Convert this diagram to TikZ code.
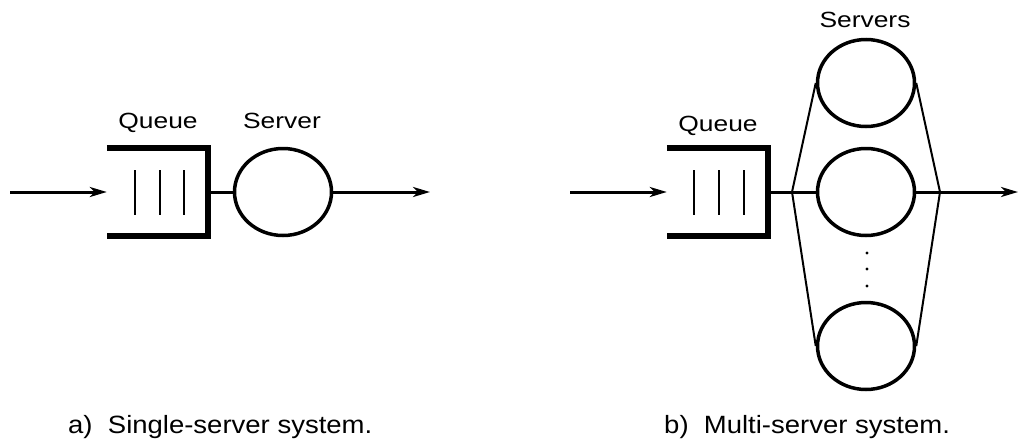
\documentclass[tikz,border=0pt]{standalone}
\usepackage{fontspec}
\setmainfont{Liberation Sans}
\newfontfamily\labelfont[FakeStretch=1.2]{Liberation Sans}
\newfontfamily\capfont[FakeStretch=1.1]{Liberation Sans}
\usetikzlibrary{arrows.meta,shapes.geometric}

\begin{document}
\begin{tikzpicture}[x=1pt,y=-1pt,
  server/.style={draw, ellipse, line width=3.5pt, minimum width=97pt,
                 minimum height=87pt, inner sep=0pt},
  queuebox/.style={rectangle, minimum width=101pt, minimum height=88pt, inner sep=0pt},
  bracket/.style={line width=6pt, line join=miter},
  slot/.style={line width=2pt},
  flow/.style={line width=3pt, -{Stealth[length=17pt,width=10pt,inset=5pt]}},
  link/.style={line width=3pt},
  fan/.style={line width=2pt},
  lbl/.style={font=\labelfont\fontsize{22}{26}\selectfont, anchor=base, inner sep=0pt},
  caption/.style={font=\capfont\fontsize{25}{30}\selectfont, anchor=base west, inner sep=0pt}]

\useasboundingbox (0,0) rectangle (1019,442);

% ---------- a) single-server system ----------
\node[queuebox] (qa) at (157.5,192) {};
\node[server] (srvA) at (283,192) {};
\coordinate (inA) at (10,192);
\coordinate (outA) at (430,192);

\draw[bracket] (qa.north west) -- (qa.north east) -- (qa.south east) -- (qa.south west);
\foreach \dx in {28,53,77}
  \draw[slot] ([xshift=\dx pt, yshift=-22.5pt]qa.west) -- ([xshift=\dx pt, yshift=22.5pt]qa.west);

\draw[flow] (inA) -- (qa.west);
\draw[link] (qa.east) -- (srvA.west);
\draw[flow] (srvA.east) -- (outA);

\node[lbl] (qlabA) at (158,128) {Queue};
\node[lbl] (slabA) at (282,128) {Server};
\node[caption] (capA) at (68,433) {a)\ \ Single-server system.};

% ---------- b) multi-server system ----------
\node[queuebox] (qb) at (717.5,192) {};
\node[server] (s1) at (866,83) {};
\node[server] (s2) at (866,192) {};
\node[server] (s3) at (866,346) {};
\coordinate (inB) at (570,192);
\coordinate (outB) at (1018,192);
\coordinate (jl) at (792,192);
\coordinate (jr) at (940,192);

\draw[bracket] (qb.north west) -- (qb.north east) -- (qb.south east) -- (qb.south west);
\foreach \dx in {27,52,77}
  \draw[slot] ([xshift=\dx pt, yshift=-22.5pt]qb.west) -- ([xshift=\dx pt, yshift=22.5pt]qb.west);

\draw[flow] (inB) -- (qb.west);
\draw[link] (qb.east) -- (s2.west);
\draw[flow] (s2.east) -- (outB);

\draw[fan] (s1.west) -- (jl) -- (s3.west);
\draw[fan] (s1.east) -- (jr) -- (s3.east);

\foreach \y in {253,269,286}
  \fill (867,\y) circle (1.6pt);

\node[lbl] (slabB) at (865,27) {Servers};
\node[lbl] (qlabB) at (718,131) {Queue};
\node[caption] (capB) at (664,433) {b)\ \ Multi-server system.};

\end{tikzpicture}
\end{document}
